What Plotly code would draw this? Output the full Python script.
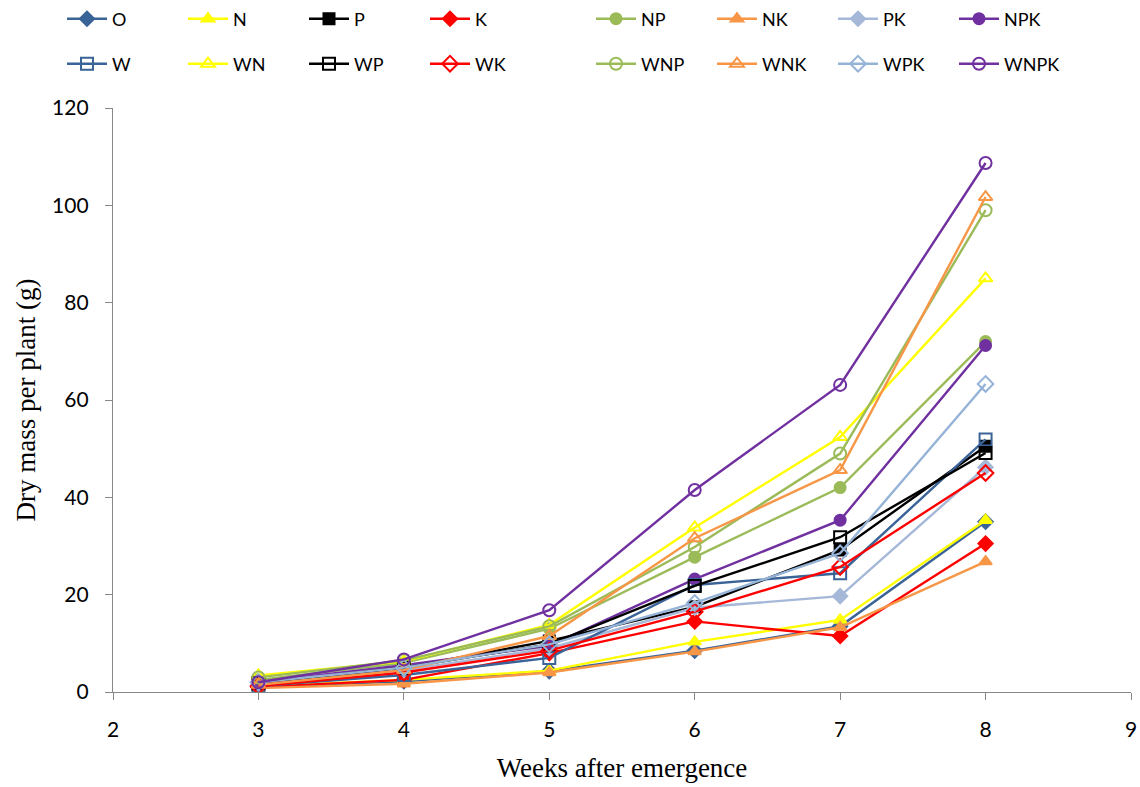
import plotly.graph_objects as go

weeks = [3, 4, 5, 6, 7, 8]

# dry mass per plant (g) by treatment
O = [1.0, 2.2, 4.3, 8.5, 13.5, 35.0]
N = [1.2, 2.5, 4.4, 10.3, 14.8, 35.3]
P = [1.5, 5.0, 10.5, 17.5, 29.2, 50.5]
K = [1.0, 2.5, 8.0, 14.5, 11.5, 30.5]
NP = [2.5, 6.0, 13.0, 27.7, 42.0, 72.0]
NK = [0.8, 1.7, 4.0, 8.3, 13.3, 26.8]
PK = [1.5, 4.5, 9.0, 17.3, 19.7, 46.2]
NPK = [2.0, 5.5, 9.5, 23.2, 35.3, 71.2]
W = [1.2, 3.5, 7.0, 22.0, 24.4, 51.9]
WN = [3.4, 6.3, 13.8, 33.8, 52.4, 85.0]
WP = [1.8, 5.0, 9.8, 21.8, 31.8, 49.1]
WK = [1.2, 4.0, 8.5, 16.5, 25.7, 45.0]
WNP = [3.0, 6.5, 13.5, 29.8, 49.0, 99.0]
WNK = [1.5, 4.5, 11.5, 31.6, 45.6, 101.7]
WPK = [2.0, 5.0, 9.8, 18.3, 28.5, 63.3]
WNPK = [2.0, 6.7, 16.8, 41.5, 63.1, 108.7]

series = [
    ("O", O, "#3A6398", "diamond", "legend"),
    ("N", N, "#FFFF00", "triangle-up", "legend"),
    ("P", P, "#000000", "square", "legend"),
    ("K", K, "#FF0000", "diamond", "legend"),
    ("NP", NP, "#9BBB59", "circle", "legend2"),
    ("NK", NK, "#F79646", "triangle-up", "legend2"),
    ("PK", PK, "#A5B8D8", "diamond", "legend2"),
    ("NPK", NPK, "#7030A0", "circle", "legend2"),
    ("W", W, "#3A6398", "square-open", "legend3"),
    ("WN", WN, "#FFFF00", "triangle-up-open", "legend3"),
    ("WP", WP, "#000000", "square-open", "legend3"),
    ("WK", WK, "#FF0000", "diamond-open", "legend3"),
    ("WNP", WNP, "#9BBB59", "circle-open", "legend4"),
    ("WNK", WNK, "#F79646", "triangle-up-open", "legend4"),
    ("WPK", WPK, "#95B3D7", "diamond-open", "legend4"),
    ("WNPK", WNPK, "#7030A0", "circle-open", "legend4"),
]

fig = go.Figure()
for name, vals, color, sym, leg in series:
    fig.add_trace(go.Scatter(
        x=weeks, y=vals, name=name, mode="lines+markers",
        line=dict(color=color, width=2.4),
        marker=dict(symbol=sym, size=12 if "open" in sym else 11, color=color,
                    line=dict(color=color, width=2)),
        legend=leg,
    ))

L, R, T, B = 113, 9, 108, 95
W_PX, H_PX = 1140, 787
pw, ph = W_PX - L - R, H_PX - T - B


def px_x(x):
    return (x - L) / pw


def px_y(y):
    return (H_PX - B - y) / ph


leg_font = dict(family="Lato, Liberation Sans, sans-serif", size=18, color="#000")
common = dict(orientation="h", xanchor="left", yanchor="middle", entrywidth=66,
              font=leg_font, bgcolor="rgba(0,0,0,0)", itemwidth=40, tracegroupgap=0)

axis_font = dict(family="Liberation Serif, Times New Roman, serif", size=27, color="#000")
tick_font = dict(family="Lato, Liberation Sans, sans-serif", size=21, color="#000")

fig.update_layout(
    width=W_PX, height=H_PX,
    margin=dict(l=L, r=R, t=T, b=B, autoexpand=False),
    plot_bgcolor="white", paper_bgcolor="white",
    showlegend=True,
    legend=dict(x=px_x(62), y=px_y(19), **common),
    legend2=dict(x=px_x(591), y=px_y(19), **common),
    legend3=dict(x=px_x(62), y=px_y(64), **common),
    legend4=dict(x=px_x(591), y=px_y(64), **common),
    xaxis=dict(
        range=[2, 9], dtick=1, tick0=2, showgrid=False, zeroline=False,
        showline=True, linecolor="#888", linewidth=1.3,
        ticks="outside", ticklen=7, tickcolor="#888", tickfont=tick_font,
        ticklabelstandoff=12,
        title=dict(text="Weeks after emergence", font=axis_font, standoff=17),
    ),
    yaxis=dict(
        range=[0, 120], dtick=20, showgrid=False, zeroline=False,
        showline=True, linecolor="#888", linewidth=1.3,
        ticks="outside", ticklen=7, tickcolor="#888", tickfont=tick_font,
        ticklabelstandoff=12,
        title=dict(text="Dry mass per plant (g)", font=axis_font, standoff=8),
    ),
)

fig.write_html("out.html")
